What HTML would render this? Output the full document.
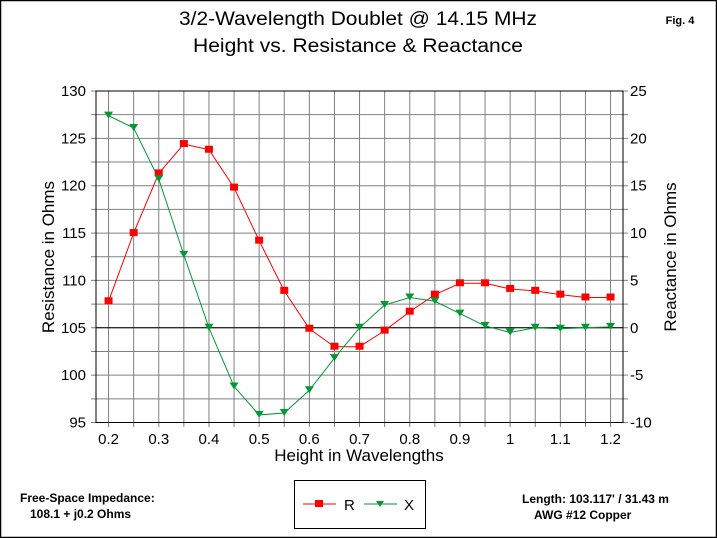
<!DOCTYPE html>
<html><head><meta charset="utf-8"><style>
html,body{margin:0;padding:0;background:#fff}
svg{display:block}
text{font-family:"Liberation Sans",Arial,sans-serif}
</style></head><body>
<svg id="s" width="717" height="538" viewBox="0 0 717 538" xmlns="http://www.w3.org/2000/svg">
<rect x="0.5" y="0.5" width="716" height="537" fill="#fff" stroke="#000" stroke-width="1.5"/>
<text x="358" y="25" font-size="19" text-anchor="middle" textLength="358" lengthAdjust="spacingAndGlyphs">3/2-Wavelength Doublet @ 14.15 MHz</text>
<text x="358" y="52" font-size="19" text-anchor="middle" textLength="330" lengthAdjust="spacingAndGlyphs">Height vs. Resistance &amp; Reactance</text>
<text x="680" y="24" font-size="11" font-weight="bold" text-anchor="middle">Fig. 4</text>
<g id="grid"></g>
<rect x="96" y="91" width="527" height="331.5" fill="none" stroke="#000" stroke-width="1"/>
<line x1="96" y1="327.8" x2="623" y2="327.8" stroke="#000" stroke-width="1"/>
<g id="data"></g>
<text transform="translate(54,257) rotate(-90)" font-size="17" text-anchor="middle">Resistance in Ohms</text>
<text transform="translate(676,257) rotate(-90)" font-size="17" text-anchor="middle">Reactance in Ohms</text>
<text x="359" y="461" font-size="17" text-anchor="middle">Height in Wavelengths</text>
<text x="20" y="502" font-size="12" font-weight="bold">Free-Space Impedance:</text>
<text x="30" y="518" font-size="12" font-weight="bold">108.1 + j0.2 Ohms</text>
<text x="522" y="503" font-size="12" font-weight="bold">Length:  103.117' / 31.43 m</text>
<text x="534" y="519" font-size="12" font-weight="bold">AWG #12 Copper</text>
<rect x="294.5" y="480.5" width="131" height="48" fill="#fff" stroke="#000"/>
<line x1="303" y1="504" x2="336" y2="504" stroke="#f00"/>
<rect x="315" y="500" width="8" height="7" fill="#f00"/>
<text x="344" y="510" font-size="15">R</text>
<line x1="364" y1="504" x2="397" y2="504" stroke="#093"/>
<polygon points="376,501 384,501 380,507" fill="#093"/>
<text x="404" y="510" font-size="15">X</text>
</svg>
<script>
var ns="http://www.w3.org/2000/svg";
function el(p,t,a,txt){var e=document.createElementNS(ns,t);for(var k in a)e.setAttribute(k,a[k]);if(txt!=null)e.textContent=txt;document.getElementById(p).appendChild(e);return e;}
function X(h){return 96+(h-0.175)*502;}
function YR(r){return 91+(130-r)*9.4714;}
function YX(x){return 91+(25-x)*9.4714;}
for(var i=0;i<=20;i++){var h=0.2+i*0.05,x=X(h);el("grid","line",{x1:x,y1:91,x2:x,y2:427,stroke:"#808080"});
 if(i%2==0){var lb=(Math.round(h*10)/10).toString();el("grid","text",{x:x,y:444,"font-size":15,"text-anchor":"middle"},lb);}}
for(var j=0;j<=14;j++){var r=130-j*2.5,y=YR(r);el("grid","line",{x1:91,y1:y,x2:628,y2:y,stroke:"#808080"});
 if(j%2==0){el("grid","text",{x:86,y:y+5,"font-size":15,"text-anchor":"end"},r);
 el("grid","text",{x:630,y:y+5,"font-size":15},25-j*2.5);}}
var R=[107.8,115,121.3,124.4,123.8,119.8,114.2,108.9,104.9,103,103,104.7,106.7,108.5,109.7,109.7,109.1,108.9,108.5,108.2,108.2];
var Xv=[22.4,21.1,15.7,7.7,0,-6.2,-9.2,-9.0,-6.6,-3.2,0,2.4,3.2,2.8,1.5,0.2,-0.5,0,-0.1,0,0.1];
var pr="",px="";
for(var i=0;i<21;i++){var x=X(0.2+i*0.05);pr+=x+","+YR(R[i])+" ";px+=x+","+YX(Xv[i])+" ";}
el("data","polyline",{points:pr,fill:"none",stroke:"#f00"});
el("data","polyline",{points:px,fill:"none",stroke:"#093"});
for(var i=0;i<21;i++){var x=X(0.2+i*0.05),y=YR(R[i]);el("data","rect",{x:x-4,y:y-4,width:8,height:7,fill:"#f00"});
 y=YX(Xv[i]);el("data","polygon",{points:(x-4.5)+","+(y-4)+" "+(x+4.5)+","+(y-4)+" "+x+","+(y+3),fill:"#093"});}
</script>
</body></html>
